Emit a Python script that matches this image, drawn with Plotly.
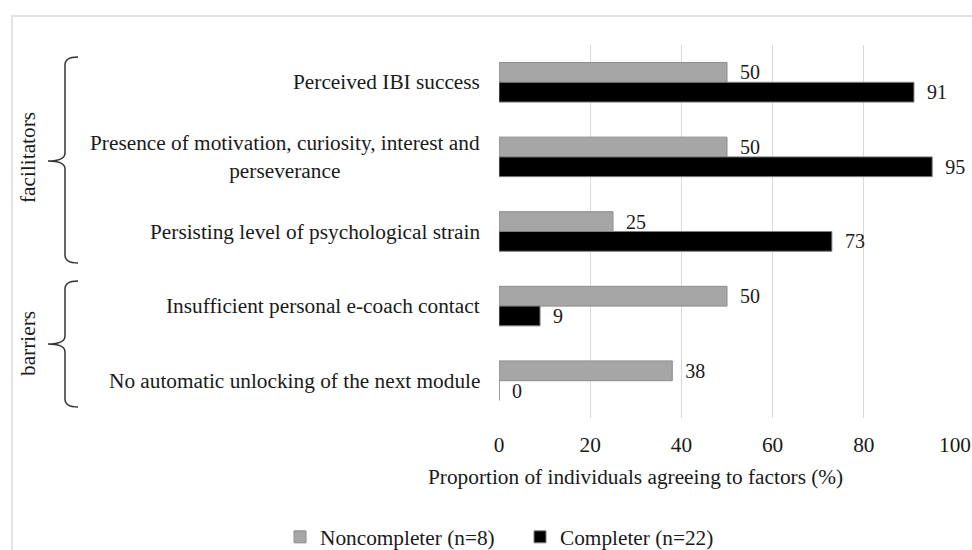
import plotly.graph_objects as go

# Factors (top to bottom) and share of participants agreeing, in percent
factors = [
    "Perceived IBI success",
    "Presence of motivation, curiosity, interest and<br>perseverance",
    "Persisting level of psychological strain",
    "Insufficient personal e-coach contact",
    "No automatic unlocking of the next module",
]
noncompleter = [50, 50, 25, 50, 38]
completer = [91, 95, 73, 9, 0]
series_names = ["Noncompleter (n=8)", "Completer (n=22)"]
x_ticks = [0, 20, 40, 60, 80, 100]
x_title = "Proportion of individuals agreeing to factors (%)"
groups = [("facilitators", 158), ("barriers", 344)]

# Figure geometry in pixels
W, H = 972, 550
L, R, T, B = 499, 17, 45, 132
PW, PH = W - L - R, H - T - B


def px(xp):
    return (xp - L) / PW


def py(yp):
    return (H - B - yp) / PH


FONT = "Liberation Serif, Times New Roman, serif"
TXT = "#1a1a1a"
FS = 21.3  # 16 pt

fig = go.Figure()
fig.add_trace(go.Bar(
    y=factors, x=noncompleter, orientation="h", name=series_names[0],
    marker=dict(color="#a6a6a6", line=dict(color="#8c8c8c", width=1)),
    text=noncompleter, texttemplate="\u00a0\u00a0%{x}", textposition="outside",
    textfont=dict(family=FONT, size=20, color=TXT), cliponaxis=False,
    constraintext="none",
))
fig.add_trace(go.Bar(
    y=factors, x=completer, orientation="h", name=series_names[1],
    marker=dict(color="#000000", line=dict(color="#7f7f7f", width=1)),
    text=completer, texttemplate="\u00a0\u00a0%{x}", textposition="outside",
    textfont=dict(family=FONT, size=20, color=TXT), cliponaxis=False,
    constraintext="none",
))

annotations = []
# Category labels, right-aligned block with centred lines
for f in factors:
    annotations.append(dict(
        x=px(482), xref="paper", y=f, yref="y", text=f, showarrow=False,
        xanchor="right", yanchor="middle", align="center",
        font=dict(family=FONT, size=FS, color=TXT),
    ))

# Group labels beside the braces
for label, yc in groups:
    annotations.append(dict(
        x=px(28), xref="paper", y=py(yc), yref="paper", text=label,
        showarrow=False, textangle=-90, xanchor="center", yanchor="middle",
        font=dict(family=FONT, size=FS, color=TXT),
    ))

# Value-axis title
annotations.append(dict(
    x=px(635), xref="paper", y=py(477), yref="paper", text=x_title,
    showarrow=False, xanchor="center", yanchor="middle",
    font=dict(family=FONT, size=FS, color=TXT),
))


def brace(y0, y1, ym):
    xr, xv, xt = px(78), px(65), px(48)
    c = 8
    pts = [
        f"M{xr},{py(y0)}",
        f"Q{xv},{py(y0)} {xv},{py(y0 + c)}",
        f"L{xv},{py(ym - c)}",
        f"Q{xv},{py(ym)} {xt},{py(ym)}",
        f"Q{xv},{py(ym)} {xv},{py(ym + c)}",
        f"L{xv},{py(y1 - c)}",
        f"Q{xv},{py(y1)} {xr},{py(y1)}",
    ]
    return dict(type="path", path=" ".join(pts), xref="paper", yref="paper",
                line=dict(color="#333333", width=1.5))


shapes = [
    # Outer frame
    dict(type="rect", xref="paper", yref="paper", x0=px(12), x1=px(990),
         y0=py(570), y1=py(16), line=dict(color="#e3e3e3", width=2),
         layer="below"),
    brace(57, 263, 161),
    brace(281, 407, 344),
]

fig.update_layout(
    width=W, height=H,
    margin=dict(l=L, r=R, t=T, b=B, autoexpand=False),
    paper_bgcolor="white", plot_bgcolor="white",
    barmode="group", bargap=0.47, bargroupgap=0,
    font=dict(family=FONT, size=FS, color=TXT),
    xaxis=dict(
        range=[0, 100], tickvals=x_ticks, showgrid=True, gridcolor="#d9d9d9",
        gridwidth=1, zeroline=False, showline=False, ticks="",
        ticklabelstandoff=12, automargin=False,
        tickfont=dict(family=FONT, size=FS, color=TXT),
    ),
    yaxis=dict(autorange="reversed", showticklabels=False, showgrid=False,
               zeroline=False, showline=False, ticks="", automargin=False),
    legend=dict(orientation="h", x=px(280), xanchor="left",
                y=py(537), yanchor="middle", entrywidth=195,
                entrywidthmode="pixels",
                font=dict(family=FONT, size=FS, color=TXT),
                itemwidth=30, traceorder="normal"),
    annotations=annotations,
    shapes=shapes,
)

fig.write_html("out.html")
